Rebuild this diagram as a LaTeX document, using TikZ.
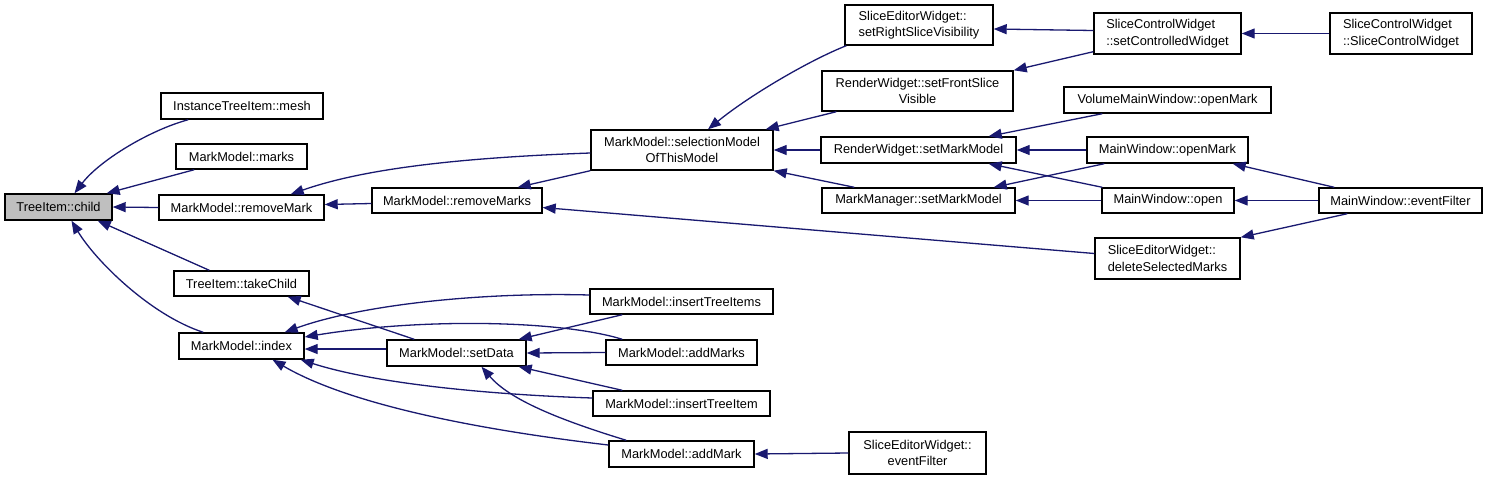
\documentclass[tikz,border=0pt]{standalone}
\usepackage{fontspec}
\setmainfont{Liberation Sans}
\usetikzlibrary{arrows.meta,calc}
\definecolor{edgeblue}{RGB}{25,25,112}
\definecolor{rootgray}{RGB}{191,191,191}
\tikzset{
  fn/.style={draw=black, line width=1.4pt, fill=white, inner sep=0pt,
    font=\fontsize{12.8}{16.5}\selectfont, text=black},
  fnl/.style={fn, align=left},
  fnc/.style={fn, align=center},
  edge/.style={draw=edgeblue, line width=1.3pt,
    -{Triangle[length=13pt,width=10pt]}},
}
\begin{document}
\begin{tikzpicture}[x=1pt,y=-1pt]
\useasboundingbox[fill=white] (0,0) rectangle (1485,480);
% nodes
\node[fn, fill=rootgray, minimum width=107pt, minimum height=26pt] (child) at (58.5,207) {TreeItem::child};
\node[fn, minimum width=162pt, minimum height=26pt] (mesh) at (242,106) {InstanceTreeItem::mesh};
\node[fn, minimum width=131pt, minimum height=25pt] (marks) at (241.5,156.5) {MarkModel::marks};
\node[fn, minimum width=165pt, minimum height=25pt] (removeMark) at (241.5,207.5) {MarkModel::removeMark};
\node[fn, minimum width=135pt, minimum height=25pt] (takeChild) at (241.5,283.5) {TreeItem::takeChild};
\node[fn, minimum width=125pt, minimum height=26pt] (index) at (241.5,346) {MarkModel::index};
\node[fnc, minimum width=182pt, minimum height=40pt] (selModel) at (682,150) {MarkModel::selectionModel\\OfThisModel};
\node[fn, minimum width=170pt, minimum height=25pt] (removeMarks) at (457,200.5) {MarkModel::removeMarks};
\node[fn, minimum width=139pt, minimum height=26pt] (setData) at (456.5,353) {MarkModel::setData};
\node[fn, minimum width=183pt, minimum height=25pt] (insertTreeItems) at (681.5,301.5) {MarkModel::insertTreeItems};
\node[fn, minimum width=151pt, minimum height=25pt] (addMarks) at (681.5,352.5) {MarkModel::addMarks};
\node[fn, minimum width=177pt, minimum height=25pt] (insertTreeItem) at (681.5,403.5) {MarkModel::insertTreeItem};
\node[fn, minimum width=145pt, minimum height=26pt] (addMark) at (681.5,454) {MarkModel::addMark};
\node[fnc, minimum width=137pt, minimum height=42pt] (sewEventFilter) at (917.5,453) {SliceEditorWidget::\\eventFilter};
\node[fnl, minimum width=148pt, minimum height=40pt] (setRight) at (919,25) {SliceEditorWidget::\\setRightSliceVisibility};
\node[fnl, minimum width=147pt, minimum height=41pt] (setCtrl) at (1167.5,33.5) {SliceControlWidget\\::setControlledWidget};
\node[fnl, minimum width=142pt, minimum height=41pt] (scwCtor) at (1401,33.5) {SliceControlWidget\\::SliceControlWidget};
\node[fnc, minimum width=191pt, minimum height=40pt] (setFront) at (917.5,91) {RenderWidget::setFrontSlice\\Visible};
\node[fn, minimum width=207pt, minimum height=26pt] (vmwOpenMark) at (1167.5,100) {VolumeMainWindow::openMark};
\node[fn, minimum width=195pt, minimum height=26pt] (rwSetMM) at (918.5,150) {RenderWidget::setMarkModel};
\node[fn, minimum width=161pt, minimum height=26pt] (mwOpenMark) at (1167.5,150) {MainWindow::openMark};
\node[fn, minimum width=193pt, minimum height=25pt] (mmSetMM) at (918.5,200.5) {MarkManager::setMarkModel};
\node[fn, minimum width=132pt, minimum height=25pt] (mwOpen) at (1168,200.5) {MainWindow::open};
\node[fn, minimum width=163pt, minimum height=25pt] (mwEventFilter) at (1400.5,200.5) {MainWindow::eventFilter};
\node[fnl, minimum width=145pt, minimum height=41pt] (delSel) at (1167.5,258.5) {SliceEditorWidget::\\deleteSelectedMarks};
% edges into TreeItem::child
\draw[edge] ($(mesh.south west)+(28,0)$) .. controls (150,130) and (100,160) .. ($(child.north)+(16,0)$);
\draw[edge] ($(marks.south west)+(19,0)$) -- ($(child.north east)+(-6,0)$);
\draw[edge] (removeMark.west) -- (child.east);
\draw[edge] ($(takeChild.north west)+(36,0)$) -- ($(child.south east)+(-15,0)$);
\draw[edge] ($(index.north west)+(25,0)$) .. controls (150,315) and (95,260) .. ($(child.south)+(13,0)$);
% removeMark
\draw[edge] ($(selModel.west)+(0,3)$) .. controls (450,158) and (360,170) .. ($(removeMark.north east)+(-34,0)$);
\draw[edge] ($(removeMarks.west)+(0,3)$) -- ($(removeMark.east)+(0,-3)$);
% removeMarks
\draw[edge] (selModel.south west) -- ($(removeMarks.north east)+(-25,0)$);
\draw[edge] ($(delSel.west)+(0,-5)$) -- ($(removeMarks.east)+(0,7)$);
% selectionModel
\draw[edge] ($(setRight.south west)+(2,0)$) .. controls (810,60) and (750,95) .. ($(selModel.north)+(26,0)$);
\draw[edge] ($(setFront.south west)+(15,0)$) -- ($(selModel.north east)+(-8,0)$);
\draw[edge] (rwSetMM.west) -- (selModel.east);
\draw[edge] ($(mmSetMM.north west)+(33,0)$) -- (selModel.south east);
% slice widgets
\draw[edge] ($(setCtrl.west)+(0,-3)$) -- ($(setRight.east)+(0,4)$);
\draw[edge] ($(setCtrl.south west)+(0,-3)$) -- (setFront.north east);
\draw[edge] (scwCtor.west) -- (setCtrl.east);
% set mark model
\draw[edge] ($(vmwOpenMark.south west)+(39,0)$) -- ($(rwSetMM.north east)+(-28,0)$);
\draw[edge] (mwOpenMark.west) -- (rwSetMM.east);
\draw[edge] ($(mwOpen.north west)+(1,0)$) -- ($(rwSetMM.south east)+(-28,0)$);
\draw[edge] ($(mwOpenMark.south west)+(18,0)$) -- ($(mmSetMM.north east)+(-22,0)$);
\draw[edge] (mwOpen.west) -- (mmSetMM.east);
% main window event filter
\draw[edge] ($(mwEventFilter.north west)+(16,0)$) -- ($(mwOpenMark.south east)+(-16,0)$);
\draw[edge] (mwEventFilter.west) -- (mwOpen.east);
\draw[edge] ($(mwEventFilter.south west)+(29,0)$) -- (delSel.north east);
% setData / index
\draw[edge] ($(setData.north west)+(28,0)$) -- ($(takeChild.south east)+(-22,0)$);
\draw[edge] ($(setData.west)+(0,-4)$) -- ($(index.east)+(0,3)$);
\draw[edge] ($(insertTreeItems.west)+(0,-6.5)$) .. controls (480,292) and (360,305) .. ($(index.north east)+(-20,0)$);
\draw[edge] ($(insertTreeItems.south west)+(33,0)$) -- ($(setData.north east)+(-8,0)$);
\draw[edge] ($(addMarks.north west)+(17,0)$) .. controls (560,320) and (420,318) .. ($(index.east)+(0,-9)$);
\draw[edge] (addMarks.west) -- (setData.east);
\draw[edge] ($(insertTreeItem.west)+(0,-5.5)$) .. controls (500,395) and (380,385) .. ($(index.south east)+(-4,0)$);
\draw[edge] ($(insertTreeItem.north west)+(30,0)$) -- ($(setData.south east)+(-8,0)$);
\draw[edge] ($(addMark.west)+(0,-9)$) .. controls (480,430) and (350,405) .. ($(index.south)+(31,0)$);
\draw[edge] ($(addMark.north west)+(18,0)$) .. controls (560,420) and (510,400) .. ($(setData.south)+(25,0)$);
\draw[edge] (sewEventFilter.west) -- (addMark.east);
\end{tikzpicture}
\end{document}
